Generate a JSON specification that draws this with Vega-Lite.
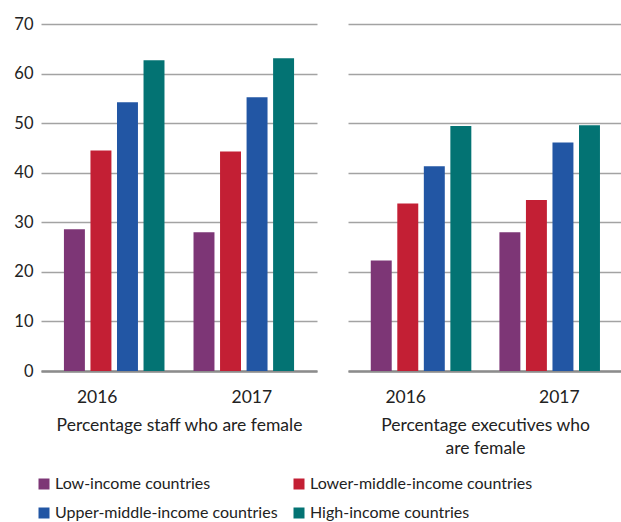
{
  "$schema": "https://vega.github.io/schema/vega-lite/v6.json",
  "padding": {"left": 13, "top": 16, "right": 1, "bottom": 2},
  "background": "white",
  "config": {
    "font": "Lato",
    "view": {"stroke": null},
    "concat": {"spacing": 31},
    "axisX": {
      "domain": true, "domainColor": "#8c8c8c", "domainWidth": 2.5,
      "ticks": false, "labelAngle": 0, "labelFontSize": 17.5, "labelColor": "#222",
      "labelPadding": 17, "titleFontSize": 17.5, "titleFontWeight": "normal",
      "titleColor": "#222", "titlePadding": 11, "titleLineHeight": 23, "grid": false
    },
    "axisY": {
      "domain": false, "ticks": false, "gridColor": "#a3a3a3", "gridWidth": 1.5,
      "labelFontSize": 16.5, "labelColor": "#222", "labelPadding": 8, "title": null
    },
    "legend": {
      "orient": "none", "legendX": -5, "legendY": 452, "columns": 2, "direction": "horizontal",
      "symbolType": "square", "symbolSize": 121, "symbolStrokeWidth": 0,
      "labelFontSize": 16, "labelColor": "#222", "labelLimit": 0, "rowPadding": 13, "columnPadding": 13,
      "labelOffset": 3, "title": null
    }
  },
  "data": {"values": [
    {"panel": "staff", "year": "2016", "group": "Low-income countries", "value": 28.6},
    {"panel": "staff", "year": "2016", "group": "Lower-middle-income countries", "value": 44.5},
    {"panel": "staff", "year": "2016", "group": "Upper-middle-income countries", "value": 54.2},
    {"panel": "staff", "year": "2016", "group": "High-income countries", "value": 62.7},
    {"panel": "staff", "year": "2017", "group": "Low-income countries", "value": 28.0},
    {"panel": "staff", "year": "2017", "group": "Lower-middle-income countries", "value": 44.3},
    {"panel": "staff", "year": "2017", "group": "Upper-middle-income countries", "value": 55.2},
    {"panel": "staff", "year": "2017", "group": "High-income countries", "value": 63.1},
    {"panel": "exec", "year": "2016", "group": "Low-income countries", "value": 22.3},
    {"panel": "exec", "year": "2016", "group": "Lower-middle-income countries", "value": 33.8},
    {"panel": "exec", "year": "2016", "group": "Upper-middle-income countries", "value": 41.3},
    {"panel": "exec", "year": "2016", "group": "High-income countries", "value": 49.4},
    {"panel": "exec", "year": "2017", "group": "Low-income countries", "value": 28.0},
    {"panel": "exec", "year": "2017", "group": "Lower-middle-income countries", "value": 34.5},
    {"panel": "exec", "year": "2017", "group": "Upper-middle-income countries", "value": 46.1},
    {"panel": "exec", "year": "2017", "group": "High-income countries", "value": 49.6}
  ]},
  "resolve": {"scale": {"color": "shared"}, "legend": {"color": "shared"}},
  "hconcat": [
    {
      "width": 276, "height": 347,
      "transform": [{"filter": "datum.panel === 'staff'"}],
      "mark": {"type": "bar"},
      "encoding": {
        "x": {"field": "year", "type": "nominal", "title": "Percentage staff who are female",
              "scale": {"paddingInner": 0.224, "paddingOuter": 0.177},
              "axis": {"labelOffset": {"condition": {"test": "datum.value === '2016'", "value": -17}, "value": 8}}},
        "xOffset": {"field": "group", "type": "nominal",
              "sort": ["Low-income countries", "Lower-middle-income countries", "Upper-middle-income countries", "High-income countries"],
              "scale": {"paddingInner": 0.21, "paddingOuter": 0}},
        "y": {"field": "value", "type": "quantitative",
              "scale": {"domain": [0, 70], "nice": false},
              "axis": {"values": [0, 10, 20, 30, 40, 50, 60, 70]}},
        "color": {"field": "group", "type": "nominal",
              "scale": {"domain": ["Low-income countries", "Lower-middle-income countries", "Upper-middle-income countries", "High-income countries"],
                        "range": ["#7d3676", "#c31f34", "#2256a4", "#037373"]}}
      }
    },
    {
      "width": 274, "height": 347,
      "transform": [{"filter": "datum.panel === 'exec'"}],
      "mark": {"type": "bar"},
      "encoding": {
        "x": {"field": "year", "type": "nominal", "title": ["Percentage executives who", "are female"],
              "scale": {"paddingInner": 0.224, "paddingOuter": 0.177},
              "axis": {"labelOffset": {"condition": {"test": "datum.value === '2016'", "value": -15}, "value": 10}}},
        "xOffset": {"field": "group", "type": "nominal",
              "sort": ["Low-income countries", "Lower-middle-income countries", "Upper-middle-income countries", "High-income countries"],
              "scale": {"paddingInner": 0.21, "paddingOuter": 0}},
        "y": {"field": "value", "type": "quantitative",
              "scale": {"domain": [0, 70], "nice": false},
              "axis": {"values": [0, 10, 20, 30, 40, 50, 60, 70], "labels": false}},
        "color": {"field": "group", "type": "nominal",
              "scale": {"domain": ["Low-income countries", "Lower-middle-income countries", "Upper-middle-income countries", "High-income countries"],
                        "range": ["#7d3676", "#c31f34", "#2256a4", "#037373"]}}
      }
    }
  ]
}
